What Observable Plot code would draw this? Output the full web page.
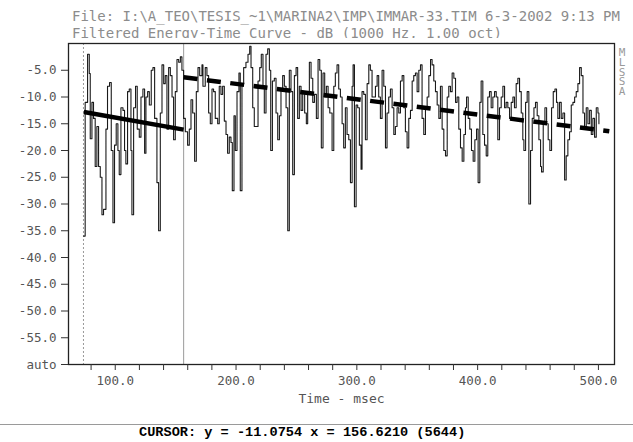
<!DOCTYPE html>
<html>
<head>
<meta charset="utf-8">
<script src="https://cdn.jsdelivr.net/npm/d3@7"></script>
<script src="https://cdn.jsdelivr.net/npm/@observablehq/plot@0.6"></script>
<style>
  html, body { margin: 0; padding: 0; background: #fff; }
  #wrap { position: relative; width: 633px; height: 442px; overflow: hidden; background: #fff; }
  .mono { font-family: "DejaVu Sans Mono", "Liberation Mono", monospace; }
  #title { position: absolute; left: 72px; top: 8px; font-size: 14px; line-height: 16.6px; color: #8c8c8c; white-space: pre; }
  #chart { position: absolute; left: 0; top: 38px; }
  #side { position: absolute; left: 617px; top: 48px; width: 10px; font-size: 11px; line-height: 9.8px; color: #9a9a9a; text-align: center; white-space: pre; }
  #sep { position: absolute; left: 0; top: 423.5px; width: 633px; height: 1.5px; background: #9a9a9a; }
  #cursor { position: absolute; left: 139px; top: 425px; font-size: 13.6px; line-height: 16px; color: #000; font-weight: bold; white-space: pre; font-family: "Liberation Mono", "DejaVu Sans Mono", monospace; }
</style>
</head>
<body>
<div id="wrap">
  <div id="title" class="mono"></div>
  <div id="chart"></div>
  <div id="side" class="mono"></div>
  <div id="sep"></div>
  <div id="cursor"></div>
</div>
<script>
// ---- text ----
const titleLines = [
  "File: I:\\A_TEO\\TESIS_~1\\MARINA2\\IMP\\IMMAR-33.TIM 6-3-2002 9:13 PM",
  "Filtered Energy-Time Curve - dB (1000 Hz, 1.00 oct)"
];
const sideLetters = ["M", "L", "S", "S", "A"];
const xAxisLabel = "Time - msec";
const cursorText = "CURSOR: y = -11.0754 x = 156.6210 (5644)";

// ---- axes ----
const yTickValues = [-5, -10, -15, -20, -25, -30, -35, -40, -45, -50, -55, -60];
const xTickValues = [80, 100, 120, 140, 160, 180, 200, 220, 240, 260, 280, 300, 320, 340, 360, 380, 400, 420, 440, 460, 480, 500];
const xLabelValues = [100, 200, 300, 400, 500];

// ---- markers ----
const startMarkerTime = 73.7;   // dashed marker
const cursorTime = 156.621;      // cursor line

// ---- fitted lines (time, dB) ----
const earlyFitTime = [74, 156.6];
const earlyFitLevel = [-12.8, -16.1];
const lateFitTime = [156.6, 509];
const lateFitLevel = [-6.3, -16.4];

// ---- energy-time curve ----
const etcTime = [
73.8,75.1,77.1,78.5,79.3,80.7,82.0,83.4,84.8,86.2,87.6,89.0,90.3,92.3,93.6,95.3,96.7,98.1,99.4,100.8,
102.2,103.3,104.7,106.4,107.7,108.8,110.2,111.6,113.0,113.8,115.2,116.8,118.2,119.9,121.3,122.9,124.3,125.4,126.8,128.2,
129.8,131.2,132.6,134.5,135.9,137.3,138.7,140.1,141.4,142.8,144.2,145.6,147.0,148.3,149.7,151.1,152.5,153.9,155.2,156.6,
158.0,159.9,161.3,162.7,164.1,165.7,167.1,168.5,169.9,
171.8,172.6,174.5,175.9,177.3,178.7,180.1,181.4,182.8,184.8,186.1,187.5,188.9,190.3,191.7,193.0,194.4,195.8,196.9,198.3,
199.4,200.8,202.4,203.5,204.9,206.3,208.2,209.9,211.3,212.4,213.8,215.1,216.8,218.2,219.6,220.9,222.3,223.4,224.8,226.2,
227.6,228.7,230.1,231.7,233.1,234.5,235.9,237.2,238.6,240.0,241.4,242.8,244.1,245.5,246.9,248.3,249.7,251.0,252.4,253.8,
255.2,256.8,258.2,259.3,260.7,262.1,263.5,264.9,266.5,267.9,269.3,270.6,272.0,273.4,274.8,276.2,277.6,
279.5,280.9,282.2,283.6,285.0,286.4,287.8,289.1,290.5,291.9,293.3,294.7,296.1,296.9,298.0,299.4,300.7,302.1,303.5,304.3,
305.7,307.1,308.5,309.9,311.2,312.6,314.0,315.4,316.8,318.1,319.5,320.9,322.3,323.7,325.0,326.4,327.8,329.2,330.6,331.9,
333.3,334.7,336.1,337.5,338.9,340.2,341.6,343.0,344.4,345.8,347.1,348.5,349.9,351.3,352.7,354.0,355.4,356.8,358.2,359.6,
361.0,362.3,363.7,365.1,366.5,367.9,369.2,370.6,372.0,373.4,374.8,376.1,377.5,378.9,380.3,381.7,383.0,384.4,
385.8,387.2,388.6,389.9,390.8,392.2,393.5,394.9,396.3,397.7,399.1,400.4,401.8,402.9,404.3,405.7,407.1,408.4,409.8,411.2,
412.6,414.0,415.4,416.7,418.1,419.5,420.9,422.3,423.6,425.0,426.4,427.8,429.2,430.5,431.9,433.3,434.7,436.1,437.4,438.3,
439.7,441.0,442.4,443.8,445.2,446.6,447.9,449.3,450.7,452.1,452.9,454.3,455.7,457.1,458.4,459.8,461.2,462.6,464.0,465.3,
466.4,467.8,469.2,470.6,472.0,473.3,474.7,476.1,477.5,478.9,480.3,481.6,483.0,484.4,485.8,487.2,488.5,489.9,491.3,492.7,
494.1,495.4,496.8,498.2,499.6,500.4
];
const etcLevel = [
-36,-11,-2,-5.6,-17.8,-11,-14,-23,-15.5,-23,-25,-32,-31,-16,-8,-7.3,-20,-33.5,-19,-15,
-20,-24.5,-12,-12.5,-20,-22.5,-9,-8.5,-20,-32,-12,-8,-16,-17.5,-10,-8.5,-20.5,-10,-9,-11.5,
-5,-4.5,-14,-26,-35,-13,-4,-7.5,-6,-16,-4.5,-6,-10,-18,-9,-3,-3.5,-2.5,-5,-14,
-16.5,-19,-16,-10.5,-13,-22,-9,-4.5,-6,
-4,-8,-4.5,-6,-13,-15,-8.5,-9,-14,-15,-8,-9.5,-8,-14.5,-17,-20.5,-17.5,-18.5,-27.5,-13.5,
-20,-9,-5.5,-27.5,-7.5,-4.5,-3.5,-2,-0.5,-4.5,-12,-15.5,-15.5,-7,-4.5,-2,-8,-13,-2,-1,
-5,-20,-7,-6.5,-13,-18,-13.5,-8.5,-6,-8,-12,-35,-5,-9,-24.5,-6,-4.5,-14,-8,-12.5,
-9,-13,-15,-9,-3.5,-6.5,-11,-9.5,-14,-3,-5,-19.5,-5.5,-10,-8,-12,-13,
-20,-8,-5.5,-4,-8.5,-10,-15,-19.5,-12,-17,-18,-26,-8,-4,-30.5,-11.5,-12,-19,-23.5,-9,
-9.5,-18,-7.5,-4,-5,-10,-10,-8,-6,-10,-14,-5,-8,-19.5,-13,-10,-8.5,-12,-17,-15.5,
-12,-13,-7,-6,-12,-16.5,-19.5,-14,-12.5,-7,-6,-5.5,-9,-5,-4,-14,-17,-12,-10,-6,
-3,-4,-7,-9,-11.5,-14,-8,-16,-20,-21,-10,-8,-9,-5.5,-6.5,-11,-10,-16,
-19.5,-22,-17,-12,-10,-14,-16,-20,-22,-18,-16,-26,-11,-7,-17,-19,-21,-10,-9,-12,
-10,-9,-10,-18,-12,-10,-8,-12,-11,-12,-14,-11,-10,-12,-7.5,-6.5,-9,-13,-18,-20,
-11,-9,-30,-20,-14,-12,-11,-13.5,-18,-23,-24,-15,-12,-15,-18,-20,-12,-9,-8.5,-11,
-14,-11,-14,-13,-25.5,-21,-18,-16.5,-11.5,-11,-10,-9,-7.5,-4.5,-6,-13,-16,-12,-15,-12.5,
-17,-14,-17.5,-12,-13,-15
];

// ---- build tables ----
const etc = etcTime.map((t, i) => ({t, db: etcLevel[i]}));
const earlyFit = earlyFitTime.map((t, i) => ({t, db: earlyFitLevel[i]}));
const lateFit = lateFitTime.map((t, i) => ({t, db: lateFitLevel[i]}));

document.getElementById("title").textContent = titleLines.join("\n");
document.getElementById("side").textContent = sideLetters.join("\n");
document.getElementById("cursor").textContent = cursorText;

const chart = Plot.plot({
  width: 633,
  height: 380,
  marginTop: 5,
  marginBottom: 54,
  marginLeft: 68,
  marginRight: 19,
  x: {domain: [61.3, 513.3]},
  y: {domain: [-60, 0]},
  style: {fontFamily: "'DejaVu Sans Mono', monospace", fontSize: "12.5px", color: "#555", background: "#fff", overflow: "visible"},
  marks: [
    Plot.ruleX([startMarkerTime], {stroke: "#9a9a9a", strokeDasharray: "2,2", strokeWidth: 1}),
    Plot.ruleX([cursorTime], {stroke: "#9a9a9a", strokeWidth: 1}),
    Plot.line(etc, {x: "t", y: "db", curve: "step-after", stroke: "#1a1a1a", strokeWidth: 1.1}),
    Plot.line(earlyFit, {x: "t", y: "db", stroke: "#000", strokeWidth: 4.5, strokeLinecap: "butt"}),
    Plot.line(lateFit, {x: "t", y: "db", stroke: "#000", strokeWidth: 4.5, strokeLinecap: "butt", strokeDasharray: "14,9.5"}),
    Plot.frame({stroke: "#222", strokeWidth: 1.3}),
    Plot.axisY({ticks: yTickValues, tickFormat: d => d === -60 ? "auto" : d.toFixed(1), tickSize: 7, tickPadding: 5, label: null, stroke: "#333"}),
    Plot.axisX({ticks: xTickValues, tickFormat: d => xLabelValues.includes(d) ? d.toFixed(1) : "", tickSize: 6, tickPadding: 6, label: null, stroke: "#333"}),
    Plot.text([xAxisLabel], {frameAnchor: "bottom", dy: 38, fontSize: 13, fill: "#555"})
  ]
});
document.getElementById("chart").appendChild(chart);
</script>
</body>
</html>
